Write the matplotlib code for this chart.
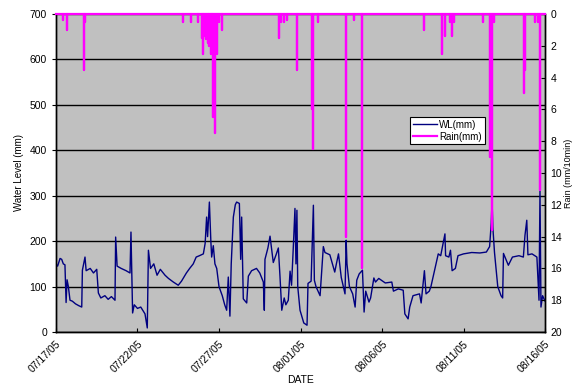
import numpy as np
import pandas as pd
import matplotlib
matplotlib.use("Agg")
import matplotlib.pyplot as plt
import matplotlib.dates as mdates

plt.rcParams['font.family'] = ['Liberation Sans', 'DejaVu Sans']

# Water level: days since 07/17/05 and level in mm
wl_days = [0.0, 0.1, 0.25, 0.35, 0.45, 0.55, 0.62, 0.68, 0.76, 0.86, 1.0, 1.2, 1.4, 1.58,
           1.62, 1.78, 1.85, 2.1, 2.3, 2.5, 2.6, 2.75, 3.0, 3.2, 3.4, 3.62, 3.66, 3.75,
           4.0, 4.3, 4.54, 4.6, 4.7, 4.8, 5.0, 5.2, 5.46, 5.6, 5.67, 5.8, 6.0, 6.2, 6.4,
           6.69, 6.9, 7.2, 7.5, 7.7, 8.0, 8.2, 8.42, 8.6, 8.8, 9.04, 9.15, 9.24, 9.3,
           9.41, 9.5, 9.55, 9.65, 9.75, 9.86, 10.0, 10.2, 10.35, 10.47, 10.57, 10.67,
           10.75, 10.88, 11.0, 11.08, 11.25, 11.33, 11.39, 11.49, 11.7, 11.8, 12.0, 12.3,
           12.5, 12.72, 12.78, 12.82, 13.0, 13.13, 13.33, 13.5, 13.64, 13.74, 13.85, 14.0,
           14.1, 14.25, 14.36, 14.45, 14.56, 14.66, 14.72, 14.78, 14.83, 14.97, 15.2, 15.4,
           15.46, 15.65, 15.79, 15.85, 15.95, 16.2, 16.4, 16.5, 16.8, 17.1, 17.2, 17.33,
           17.5, 17.73, 17.8, 17.85, 18.0, 18.2, 18.35, 18.45, 18.6, 18.8, 18.9, 19.0,
           19.2, 19.3, 19.5, 19.6, 19.8, 20.2, 20.6, 20.7, 21.0, 21.3, 21.4, 21.6, 21.7,
           21.9, 22.3, 22.4, 22.6, 22.7, 22.9, 23.0, 23.45, 23.6, 23.86, 23.9, 24.1, 24.2,
           24.3, 24.5, 24.66, 25.0, 25.5, 26.0, 26.4, 26.6, 26.7, 26.75, 26.8, 26.9, 27.1,
           27.3, 27.4, 27.45, 27.6, 27.75, 28.0, 28.4, 28.67, 28.77, 28.88, 28.95, 29.2,
           29.5, 29.63, 29.69, 29.75, 29.85, 30.0]
wl_mm = [150, 145, 162, 160, 150, 148, 65, 115, 100, 70, 68, 62, 58, 55,
         136, 165, 135, 140, 130, 138, 86, 75, 80, 72, 78, 70, 209, 145,
         140, 135, 130, 220, 42, 60, 52, 55, 40, 9, 180, 140, 150, 125, 138,
         125, 118, 110, 103, 112, 130, 140, 150, 165, 168, 172, 195, 253, 210,
         286, 200, 165, 190, 150, 140, 100, 80, 60, 48, 121, 35,
         150, 253, 280, 286, 283, 160, 253, 73, 64, 123, 135, 140,
         130, 110, 48, 160, 185, 211, 153, 170, 185, 123, 48, 75,
         60, 70, 134, 103, 188, 272, 150, 268, 100, 48, 20, 15,
         107, 112, 279, 114, 100, 80, 188, 175, 170, 132, 150, 172,
         120, 84, 202, 150, 100, 84, 55, 114, 128, 136, 44, 90,
         66, 75, 119, 110, 118, 108, 110, 90, 95, 92, 40, 29, 55,
         80, 84, 64, 135, 84, 90, 100, 172, 168, 216, 168, 165, 180,
         135, 140, 168, 172, 175, 174, 176, 188, 240, 290, 230, 175, 100,
         80, 75, 173, 160, 147, 165, 168, 165, 213, 246, 170, 172,
         165, 70, 312, 55, 80, 68]

# Rain events: days since 07/17/05 and rain in mm/10min
rain_days = [0.4, 0.65, 1.74, 1.8, 7.77, 8.3, 8.72, 8.95, 9.0, 9.1, 9.2, 9.3, 9.4,
             9.5, 9.58, 9.65, 9.75, 9.85, 10.0, 10.17, 13.7, 13.8, 14.0, 14.2, 14.8,
             15.72, 15.78, 16.05, 17.8, 18.3, 18.75, 22.58, 23.66, 23.87, 24.2, 24.3,
             24.4, 26.2, 26.65, 26.72, 26.85, 28.72, 28.8, 29.4, 29.55, 29.69]
rain_mm = [0.4, 1.0, 3.5, 0.5, 0.5, 0.5, 0.5, 1.5, 2.5, 1.4, 1.6, 1.8, 2.0,
           2.5, 2.5, 6.5, 7.5, 2.5, 0.5, 1.0, 1.5, 0.5, 0.5, 0.4, 3.5,
           6.0, 8.5, 0.5, 14.0, 0.4, 16.0, 1.0, 2.5, 1.4, 0.5, 1.4,
           0.5, 0.5, 9.0, 13.6, 0.5, 5.0, 3.5, 0.5, 0.5, 11.1]

start = pd.Timestamp('2005-07-17')
end = pd.Timestamp('2005-08-16')
tick_dates = pd.date_range(start, end, freq='5D')


def to_dates(days):
    return start + pd.to_timedelta(np.asarray(days), unit='D')


# rain as spikes hanging from the zero line
rx, ry = [0.0], [0.0]
for d, v in zip(rain_days, rain_mm):
    rx += [d, d, d]
    ry += [0.0, v, 0.0]
rx.append(30.0)
ry.append(0.0)

fig = plt.figure(figsize=(5.73, 3.87), dpi=100)
ax = fig.add_axes([0.0977, 0.142, 0.8535, 0.822])
ax.set_facecolor('#C0C0C0')

l1, = ax.plot(to_dates(wl_days), wl_mm, color='#000080', lw=1.0, label='WL(mm)', zorder=3)
ax.set_ylim(0, 700)
ax.set_yticks(range(0, 701, 100))
ax.yaxis.grid(True, color='black', lw=1.0)
ax.set_axisbelow(True)
ax.set_xlim(start, end)
ax.set_xticks(tick_dates)
ax.xaxis.set_major_formatter(mdates.DateFormatter('%m/%d/%y'))
ax.tick_params(axis='x', direction='in', length=3, labelsize=7.5, pad=5)
ax.tick_params(axis='y', direction='out', length=3, labelsize=7.5)
for lab in ax.get_xticklabels():
    lab.set_rotation(45)
    lab.set_ha('right')
    lab.set_rotation_mode('anchor')
ax.set_ylabel('Water Level (mm)', fontsize=7)
ax.set_xlabel('DATE', fontsize=7.5, labelpad=0)

ax2 = ax.twinx()
l2, = ax2.plot(to_dates(rx), ry, color='#FF00FF', lw=1.6, label='Rain(mm)', clip_on=False, zorder=4)
ax2.set_ylim(20, 0)
ax2.set_yticks(range(0, 21, 2))
ax2.tick_params(axis='y', direction='in', length=3, labelsize=7.5, pad=4)
ax2.set_ylabel('Rain (mm/10min)', fontsize=6.5, labelpad=1)
ax2.set_xlim(start, end)

for a in (ax, ax2):
    a.spines['top'].set_visible(False)
    for s in ('left', 'bottom', 'right'):
        a.spines[s].set_color('black')
        a.spines[s].set_linewidth(1.0)

leg = fig.legend(handles=[l1, l2], loc='upper left', bbox_to_anchor=(0.707, 0.711),
                 fontsize=7, frameon=True, fancybox=False, edgecolor='black',
                 framealpha=1, handlelength=2.5, borderpad=0.3, labelspacing=0.2,
                 handletextpad=0.2)
leg.get_frame().set_linewidth(0.8)

fig.savefig('out.png', dpi=100)
